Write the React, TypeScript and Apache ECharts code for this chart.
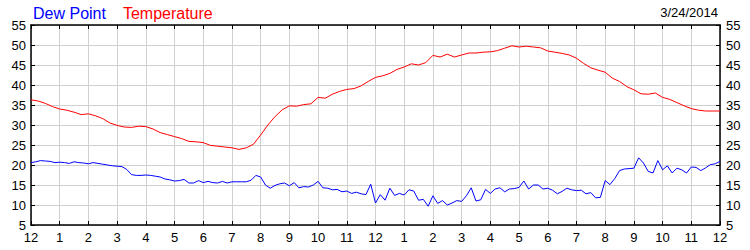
import React, { useEffect, useRef } from "react";
import * as echarts from "echarts";

const HOUR_LABELS = ["12", "1", "2", "3", "4", "5", "6", "7", "8", "9", "10", "11", "12", "1", "2", "3", "4", "5", "6", "7", "8", "9", "10", "11", "12"];
const Y_TICKS = [5, 10, 15, 20, 25, 30, 35, 40, 45, 50, 55];
const DATE_LABEL = "3/24/2014";
const SERIES_NAMES = ["Dew Point", "Temperature"];

// Temperature, every 15 minutes from 12 AM to 12 AM
const TEMP_STEP_H = 0.25;
const TEMPERATURE = [
  36.3, 36.0, 35.4, 34.6,
  34.0, 33.7, 33.2, 32.6,
  32.8, 32.3, 31.6, 30.5,
  29.9, 29.5, 29.4, 29.7,
  29.6, 29.0, 28.1, 27.6,
  27.1, 26.6, 25.9, 25.8,
  25.6, 24.9, 24.7, 24.5,
  24.3, 23.9, 24.3, 25.2,
  27.5, 30.0, 32.1, 33.8,
  34.8, 34.7, 35.1, 35.3,
  36.9, 36.7, 37.7, 38.4,
  38.9, 39.1, 39.8, 40.9,
  41.9, 42.3, 42.9, 43.9,
  44.5, 45.3, 45.0, 45.6,
  47.4, 47.0, 47.7, 47.0,
  47.5, 48.0, 48.0, 48.2,
  48.3, 48.6, 49.2, 49.8,
  49.5, 49.7, 49.5, 49.3,
  48.5, 48.2, 47.9, 47.5,
  46.7, 45.4, 44.3, 43.7,
  43.2, 41.7, 40.9, 39.6,
  38.8, 37.8, 37.7, 38.0,
  36.9, 36.4, 35.6, 34.8,
  34.1, 33.7, 33.5, 33.5,
  33.5,
];

// Dew point, every 10 minutes
const DEW_STEP_H = 1 / 6;
const DEW_POINT = [
  20.6, 20.8, 21.1, 21.0, 20.9, 20.6,
  20.7, 20.6, 20.4, 20.8, 20.6, 20.5,
  20.3, 20.6, 20.4, 20.2, 20.0, 19.8,
  19.7, 19.6, 18.9, 17.6, 17.4, 17.4,
  17.5, 17.4, 17.2, 17.0, 16.5, 16.3,
  16.0, 16.1, 16.4, 15.5, 15.5, 16.1,
  15.6, 15.9, 15.6, 15.5, 15.9, 15.5,
  15.8, 15.8, 15.8, 15.8, 16.2, 17.4,
  17.0, 15.0, 14.2, 14.9, 15.3, 15.5,
  14.8, 15.6, 14.3, 14.6, 14.5, 15.0,
  15.9, 14.3, 14.2, 13.8, 13.9, 13.3,
  13.5, 12.9, 13.2, 12.8, 12.6, 15.2,
  10.5, 12.6, 11.2, 14.2, 12.4, 12.9,
  12.5, 13.8, 13.5, 11.2, 11.4, 9.7,
  12.3, 10.4, 11.1, 10.0, 10.5, 11.1,
  10.9, 12.3, 14.3, 11.0, 11.3, 13.9,
  12.9, 14.0, 14.3, 13.3, 14.0, 14.1,
  14.4, 16.0, 14.0, 15.0, 15.0, 14.0,
  14.2, 13.7, 12.8, 13.4, 14.2, 13.8,
  13.6, 13.7, 12.8, 13.1, 11.8, 11.9,
  16.1, 15.1, 16.6, 18.6, 19.0, 19.1,
  19.2, 21.8, 20.5, 18.4, 18.0, 21.1,
  18.8, 19.8, 18.0, 19.2, 18.8, 18.0,
  19.5, 19.4, 18.6, 19.3, 20.1, 20.3,
  20.9,
];

const FONT = "'Liberation Sans', Arial, sans-serif";

export default function App() {
  const ref = useRef<HTMLDivElement>(null);

  useEffect(() => {
    if (!ref.current) return;
    const chart = echarts.init(ref.current, undefined, { renderer: "svg" });

    const tempData = TEMPERATURE.map((v, i) => [i * TEMP_STEP_H, v]);
    const dewData = DEW_POINT.map((v, i) => [i * DEW_STEP_H, v]);

    const axisLine = { show: true, onZero: false, lineStyle: { color: "#000", width: 1.5 } };
    const axisTick = { show: true, inside: true, length: 4, lineStyle: { color: "#000", width: 1 } };
    const labelStyle = { color: "#000", fontSize: 13, fontFamily: FONT };
    const yMin = Y_TICKS[0];
    const yMax = Y_TICKS[Y_TICKS.length - 1];
    const yInterval = Y_TICKS[1] - Y_TICKS[0];

    chart.setOption({
      animation: false,
      backgroundColor: "#fff",
      textStyle: { fontFamily: FONT },
      title: {
        text: DATE_LABEL,
        right: 27,
        top: 1,
        textStyle: { fontSize: 13, fontWeight: "normal", color: "#000", fontFamily: FONT },
      },
      legend: {
        left: 23,
        top: 0,
        icon: "none",
        itemWidth: 0,
        itemHeight: 14,
        itemGap: 12,
        selectedMode: false,
        data: [
          { name: SERIES_NAMES[0], textStyle: { color: "#0000ff" } },
          { name: SERIES_NAMES[1], textStyle: { color: "#ff0000" } },
        ],
        textStyle: { fontSize: 16, fontFamily: FONT },
      },
      grid: { left: 31, right: 30, top: 25, bottom: 25, containLabel: false },
      xAxis: [
        {
          type: "value",
          position: "bottom",
          min: 0,
          max: 24,
          interval: 1,
          axisLine,
          axisTick,
          axisLabel: {
            ...labelStyle,
            margin: 6,
            formatter: (v: number) => HOUR_LABELS[Math.round(v)] ?? "",
          },
          splitLine: { show: true, lineStyle: { color: "#d0d0d0", width: 1 } },
        },
        {
          type: "value",
          position: "top",
          min: 0,
          max: 24,
          interval: 1,
          axisLine,
          axisTick,
          axisLabel: { show: false },
          splitLine: { show: false },
        },
      ],
      yAxis: [
        {
          type: "value",
          position: "left",
          min: yMin,
          max: yMax,
          interval: yInterval,
          axisLine,
          axisTick,
          axisLabel: { ...labelStyle, margin: 5 },
          splitLine: { show: true, lineStyle: { color: "#d0d0d0", width: 1 } },
        },
        {
          type: "value",
          position: "right",
          min: yMin,
          max: yMax,
          interval: yInterval,
          axisLine,
          axisTick,
          axisLabel: { ...labelStyle, margin: 6 },
          splitLine: { show: false },
        },
      ],
      series: [
        {
          name: SERIES_NAMES[0],
          type: "line",
          data: dewData,
          showSymbol: false,
          symbol: "none",
          lineStyle: { color: "#0000ff", width: 1 },
          itemStyle: { color: "#0000ff" },
          z: 3,
        },
        {
          name: SERIES_NAMES[1],
          type: "line",
          data: tempData,
          showSymbol: false,
          symbol: "none",
          lineStyle: { color: "#ff0000", width: 1 },
          itemStyle: { color: "#ff0000" },
          z: 3,
        },
      ],
    });

    return () => chart.dispose();
  }, []);

  return (
    <div
      ref={ref}
      style={{ position: "fixed", left: 0, top: 0, width: 750, height: 250, background: "#fff" }}
    />
  );
}
